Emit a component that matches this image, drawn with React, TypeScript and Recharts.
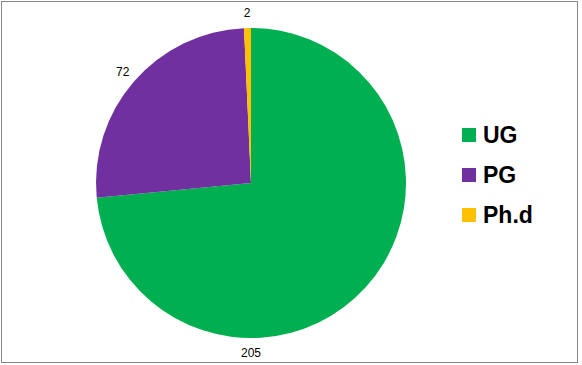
import { PieChart, Pie, Cell } from "recharts"

const categories = ["UG", "PG", "Ph.d"]
const counts = [205, 72, 2]
const colors = ["#00B050", "#7030A0", "#FFC000"]

const data = categories.map((name, i) => ({ name, value: counts[i] }))

const RADIAN = Math.PI / 180

function renderLabel(props: any) {
  const { cx, cy, midAngle, outerRadius, startAngle, endAngle, value } = props
  const r = outerRadius + 15
  let angle = midAngle
  // big slice: put the label under the pie, like Excel's best fit
  const lo = Math.min(startAngle, endAngle)
  const hi = Math.max(startAngle, endAngle)
  if (hi - lo > 180 && lo <= -90 && hi >= -90) angle = -90
  const x = cx + r * Math.cos(-angle * RADIAN)
  const y = cy + r * Math.sin(-angle * RADIAN)
  return (
    <text
      x={x}
      y={y}
      fill="#000"
      fontSize={12}
      fontFamily="'Liberation Sans', Arial, sans-serif"
      textAnchor="middle"
      dominantBaseline="central"
    >
      {value}
    </text>
  )
}

function ChartLegend() {
  return (
    <div style={{ position: "absolute", left: 462, top: 115, width: 110 }}>
      {categories.map((name, i) => (
        <div key={name} style={{ display: "flex", alignItems: "center", height: 40 }}>
          <span
            style={{
              display: "inline-block",
              width: 14,
              height: 14,
              background: colors[i],
              marginRight: 7,
            }}
          />
          <span
            style={{
              fontFamily: "'Liberation Sans', Arial, sans-serif",
              fontWeight: "bold",
              fontSize: 23,
              color: "#000",
            }}
          >
            {name}
          </span>
        </div>
      ))}
    </div>
  )
}

export default function App() {
  return (
    <div style={{ position: "absolute", left: 0, top: 0, width: 582, height: 365, background: "#fff" }}>
      <div
        style={{
          position: "absolute",
          left: 1,
          top: 1,
          width: 575,
          height: 360,
          border: "1px solid #878787",
        }}
      />
      <PieChart
        width={582}
        height={365}
        margin={{ top: 0, right: 0, bottom: 0, left: 0 }}
        style={{ position: "absolute", left: 0, top: 0 }}
      >
        <Pie
          data={data}
          dataKey="value"
          nameKey="name"
          cx={251}
          cy={183}
          outerRadius={155}
          startAngle={90}
          endAngle={-270}
          stroke="none"
          label={renderLabel}
          labelLine={false}
          isAnimationActive={false}
        >
          {data.map((d, i) => (
            <Cell key={d.name} fill={colors[i]} />
          ))}
        </Pie>
      </PieChart>
      <ChartLegend />
    </div>
  )
}
